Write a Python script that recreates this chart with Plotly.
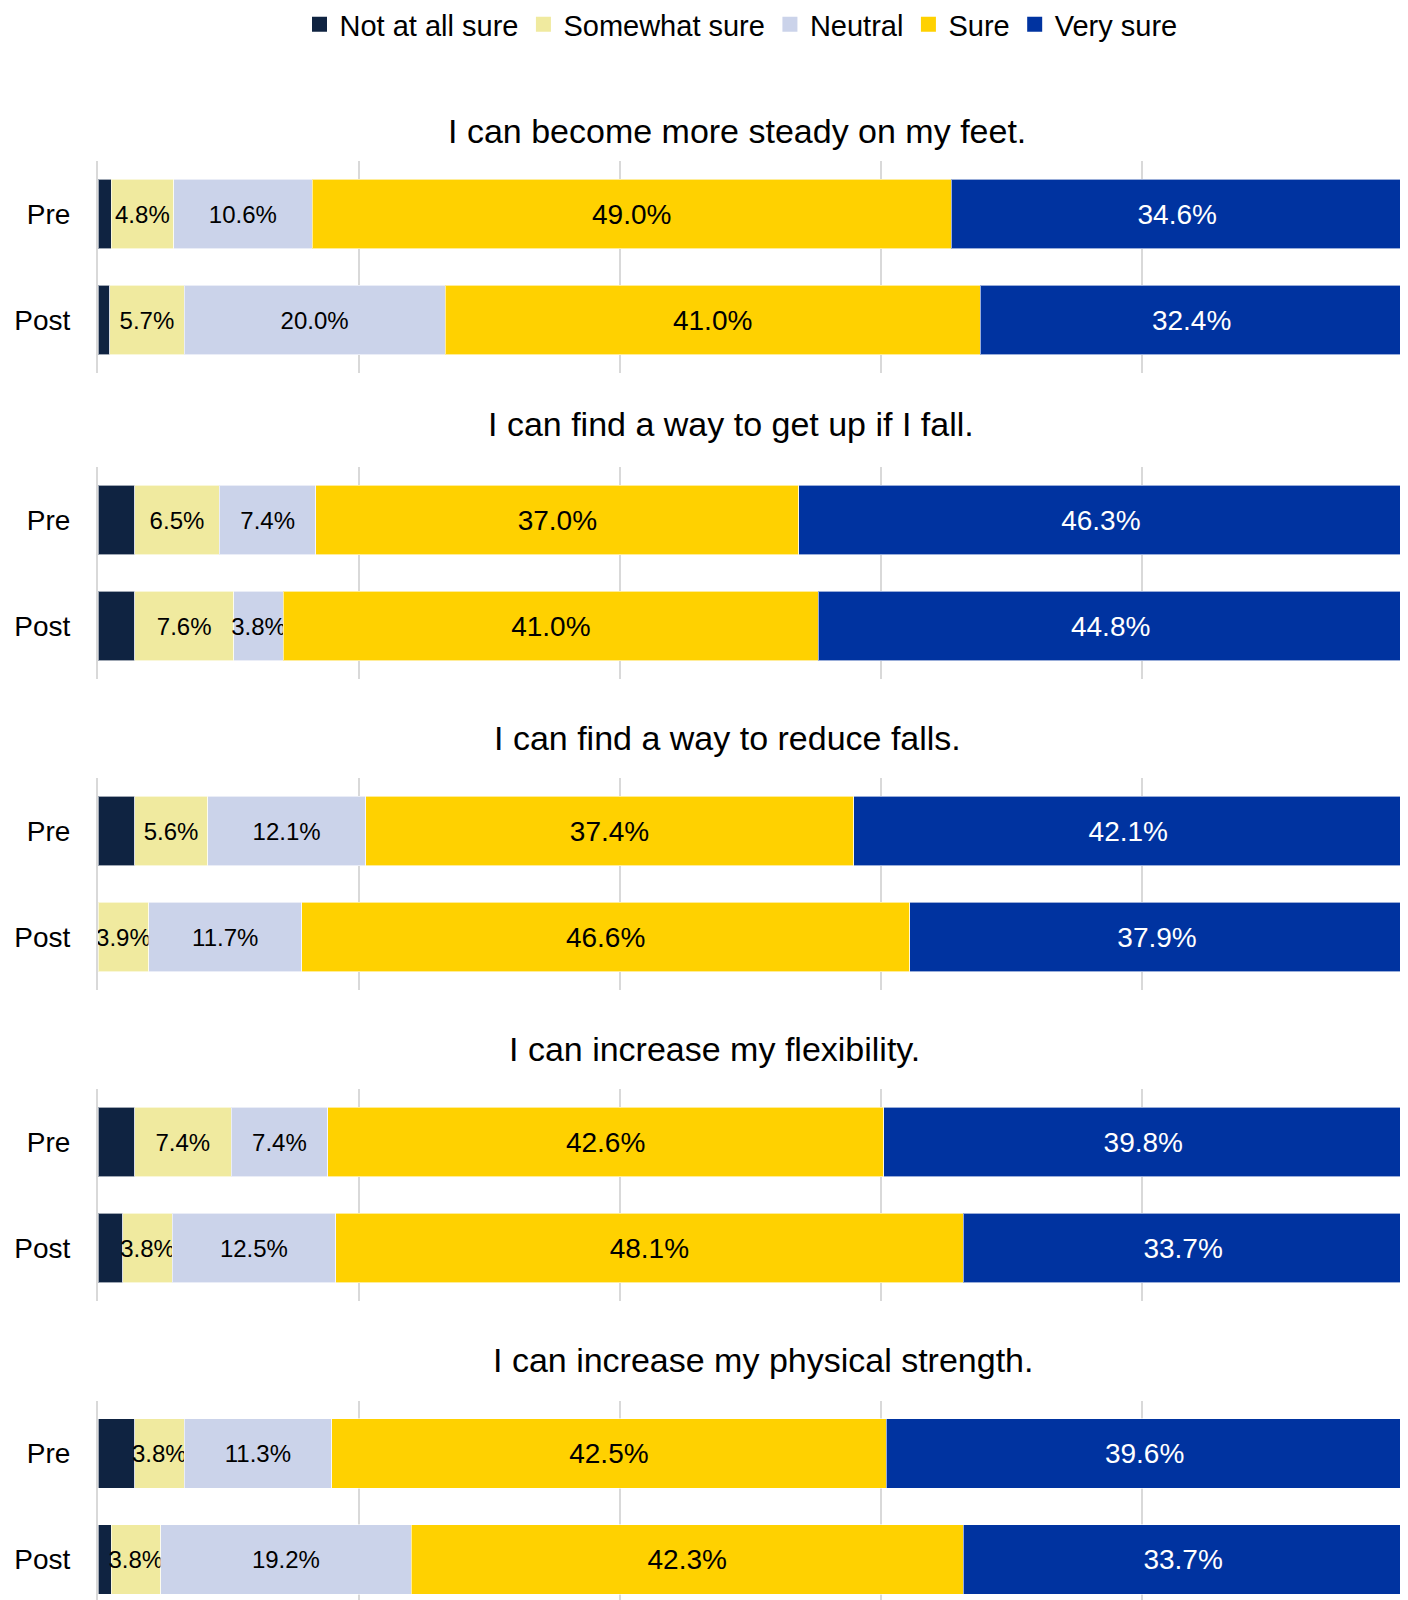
import plotly.graph_objects as go

questions = [
    "I can become more steady on my feet.",
    "I can find a way to get up if I fall.",
    "I can find a way to reduce falls.",
    "I can increase my flexibility.",
    "I can increase my physical strength.",
]
groups = ["Pre", "Post"]
series_names = ["Not at all sure", "Somewhat sure", "Neutral", "Sure", "Very sure"]

# values per question: [Pre, Post]
not_at_all_sure = [[1.0, 0.9], [2.8, 2.8], [2.8, 0.0], [2.8, 1.9], [2.8, 1.0]]
somewhat_sure = [[4.8, 5.7], [6.5, 7.6], [5.6, 3.9], [7.4, 3.8], [3.8, 3.8]]
neutral = [[10.6, 20.0], [7.4, 3.8], [12.1, 11.7], [7.4, 12.5], [11.3, 19.2]]
sure = [[49.0, 41.0], [37.0, 41.0], [37.4, 46.6], [42.6, 48.1], [42.5, 42.3]]
very_sure = [[34.6, 32.4], [46.3, 44.8], [42.1, 37.9], [39.8, 33.7], [39.6, 33.7]]

colors = ["#0F2341", "#F0EA9F", "#CBD3EA", "#FFD100", "#0033A0"]
text_colors = ["white", "black", "black", "black", "white"]
label_sizes = [1, 24, 24, 28, 28]
show_text = [False, True, True, True, True]
all_series = [not_at_all_sure, somewhat_sure, neutral, sure, very_sure]

# page is rendered with an 8px body margin; compensate
OFF = 8
PAGE_W, PAGE_H = 1408, 1600
W, H = PAGE_W - OFF, PAGE_H - OFF
ML = 98 - OFF
PW = 1305
MR = W - ML - PW
pre_centers = [214, 520, 831, 1142, 1453.5]      # page px
cat_px = 106
title_y = [130.6, 424.4, 737.7, 1048.9, 1360]    # page px
title_xc = [737, 731, 727, 714, 763]             # page px
legend_xc, legend_yc = 741, 24.5                  # page px
GRID = "#D9D9D9"

FONT = "Liberation Sans, Arial, Helvetica, sans-serif"

def py(page_y):
    return 1 - (page_y - OFF) / H

def px(page_x):
    return (page_x - OFF - ML) / PW

fig = go.Figure()

# legend proxies (square markers)
for si, name in enumerate(series_names):
    fig.add_trace(go.Scatter(
        x=[None], y=[None], mode="markers", name=name,
        marker=dict(symbol="square", size=15, color=colors[si]),
        showlegend=True, hoverinfo="skip", xaxis="x", yaxis="y",
    ))

for qi, q in enumerate(questions):
    ax = "" if qi == 0 else str(qi + 1)
    for si, name in enumerate(series_names):
        vals = all_series[si][qi]
        fig.add_trace(go.Bar(
            x=vals, y=groups, orientation="h", name=name,
            showlegend=False,
            marker=dict(color=colors[si], line=dict(color="rgba(255,255,255,0.6)", width=1)),
            text=[f"{v:.1f}%" for v in vals] if show_text[si] else None,
            textposition="inside" if show_text[si] else "none",
            insidetextanchor="middle", textangle=0, constraintext="none",
            insidetextfont=dict(color=text_colors[si], size=label_sizes[si], family=FONT),
            xaxis="x" + ax, yaxis="y" + ax,
            hoverinfo="skip",
        ))

layout = dict(
    width=W, height=H, barmode="stack", bargap=0.34,
    margin=dict(l=ML, r=MR, t=0, b=0, autoexpand=False),
    paper_bgcolor="white", plot_bgcolor="white",
    font=dict(family=FONT, color="black"),
    legend=dict(orientation="h", x=px(legend_xc), xanchor="center",
                y=py(legend_yc), yanchor="middle",
                font=dict(size=29, family=FONT), traceorder="normal",
                itemwidth=30),
    annotations=[],
)

for qi in range(5):
    ax = "" if qi == 0 else str(qi + 1)
    top = pre_centers[qi] - cat_px / 2
    bottom = min(pre_centers[qi] + cat_px * 1.5, PAGE_H)
    lo = -0.5 + (bottom - top) / cat_px
    layout["xaxis" + ax] = dict(
        range=[0, 100], dtick=20, showticklabels=False, showgrid=True,
        gridcolor=GRID, gridwidth=2, zeroline=False, showline=False,
        fixedrange=True, layer="below traces",
        anchor="y" + ax, domain=[0, 1],
    )
    layout["yaxis" + ax] = dict(
        type="category", categoryorder="array", categoryarray=groups,
        range=[lo, -0.5], showgrid=False, zeroline=False,
        showline=True, mirror=True, linecolor=GRID, linewidth=2,
        layer="below traces",
        tickfont=dict(size=28, family=FONT, color="black"), ticks="",
        ticklabelstandoff=20, automargin=False, fixedrange=True,
        anchor="x" + ax, domain=[py(bottom), py(top)],
    )
    layout["annotations"].append(dict(
        text=questions[qi], xref="paper", yref="paper",
        x=px(title_xc[qi]), y=py(title_y[qi]),
        xanchor="center", yanchor="middle", showarrow=False,
        font=dict(size=34, family=FONT, color="black"),
    ))

fig.update_layout(**layout)
fig.write_html(
    "out.html",
    post_script="document.documentElement.style.overflow='hidden';"
                "document.body.style.overflow='hidden';",
)
